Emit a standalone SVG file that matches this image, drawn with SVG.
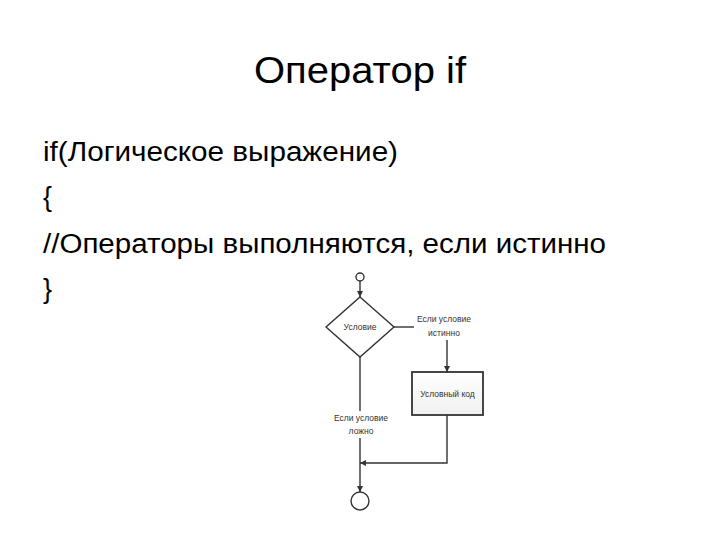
<svg xmlns="http://www.w3.org/2000/svg" width="720" height="540" viewBox="0 0 720 540">
<defs>
<marker id="arr" viewBox="0 0 10 10" refX="10" refY="5" markerWidth="6" markerHeight="6" orient="auto" markerUnits="userSpaceOnUse">
<path d="M0,0 L10,5 L0,10 z" fill="#333"/>
</marker>
<linearGradient id="boxg" x1="0" y1="0" x2="0" y2="1">
<stop offset="0" stop-color="#ffffff"/>
<stop offset="1" stop-color="#f0f0f0"/>
</linearGradient>
</defs>
<style>
.t{font-family:"Liberation Sans",Arial,sans-serif;fill:#000}
.s{font-family:"Liberation Sans",Arial,sans-serif;font-size:8.5px;fill:#333}
.ln{fill:none;stroke:#333;stroke-width:1.4}
.sh{fill:#fff;stroke:#333;stroke-width:1.4}
</style>
<rect width="720" height="540" fill="#fff"/>
<g id="text">
<text class="t" x="360" y="83" font-size="36" text-anchor="middle" textLength="212" lengthAdjust="spacingAndGlyphs">Оператор if</text>
<text class="t" x="43" y="161" font-size="27" textLength="355" lengthAdjust="spacingAndGlyphs">if(Логическое выражение)</text>
<text class="t" x="43" y="206" font-size="27">{</text>
<text class="t" x="43" y="253" font-size="27" textLength="563" lengthAdjust="spacingAndGlyphs">//Операторы выполняются, если истинно</text>
<text class="t" x="43" y="298" font-size="27">}</text>
</g>
<g id="start"><circle cx="360" cy="277" r="4" class="sh"/></g>
<g id="cond">
<polygon points="360,297 394,327 360,357 326,327" class="sh"/>
<text class="s" x="360" y="330" text-anchor="middle">Условие</text>
</g>
<g id="code">
<rect x="412" y="372" width="71" height="43" fill="url(#boxg)" stroke="#333" stroke-width="1.8"/>
<text class="s" x="447.5" y="397" text-anchor="middle">Условный код</text>
</g>
<g id="end"><circle cx="360" cy="501" r="9" class="sh"/></g>
<g id="labels">
<text class="s" x="444" y="322" text-anchor="middle">Если условие</text>
<text class="s" x="444" y="336" text-anchor="middle">истинно</text>
<text class="s" x="361" y="421" text-anchor="middle">Если условие</text>
<text class="s" x="361" y="434" text-anchor="middle">ложно</text>
</g>
<g id="connectors">
<path class="ln" d="M360,281 V297" marker-end="url(#arr)"/>
<path class="ln" d="M394,327 H414"/>
<path class="ln" d="M447,340 V372" marker-end="url(#arr)"/>
<path class="ln" d="M360,357 V411"/>
<path class="ln" d="M360,438 V492" marker-end="url(#arr)"/>
<path class="ln" d="M447,415 V463 H360" marker-end="url(#arr)"/>
</g>
</svg>
